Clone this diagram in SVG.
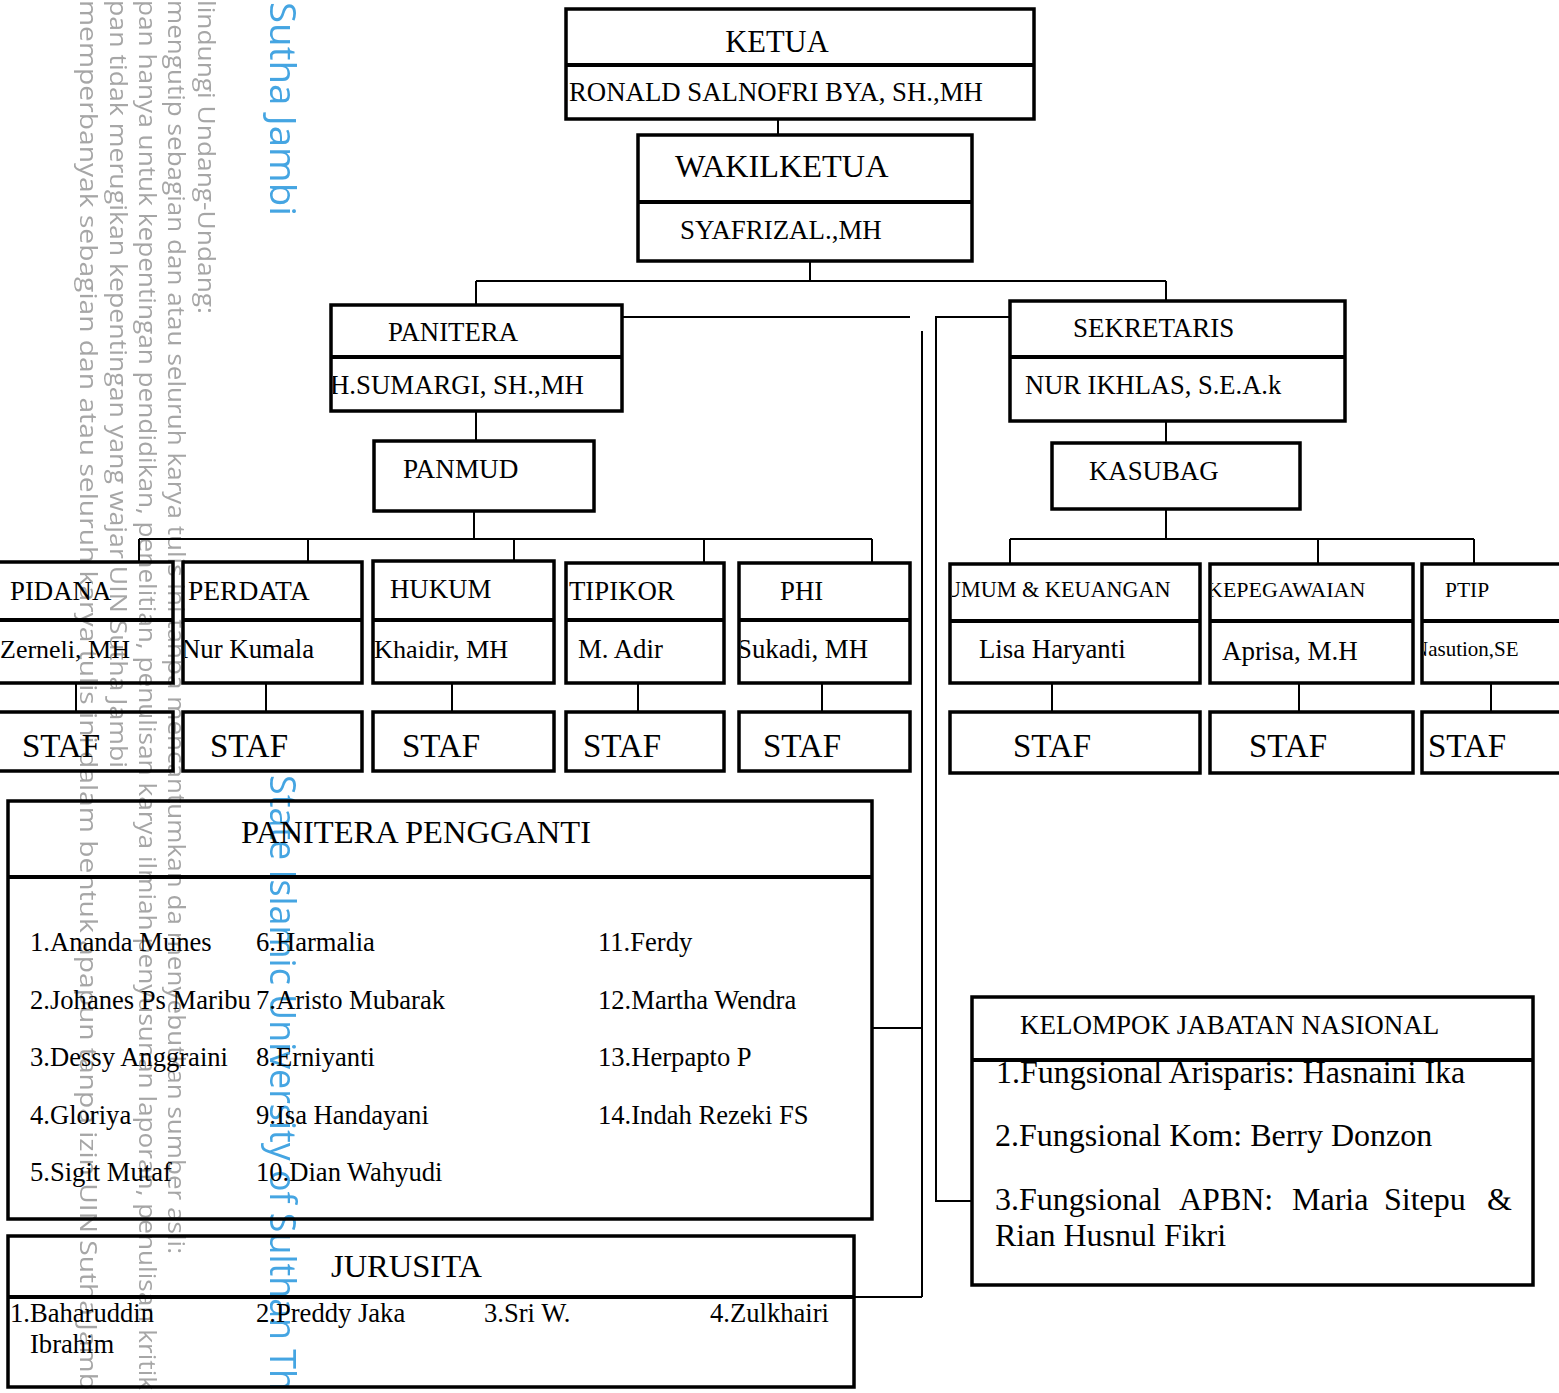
<svg xmlns="http://www.w3.org/2000/svg" width="1559" height="1393" viewBox="0 0 1559 1393">
<style>
.box{fill:none;stroke:#000;stroke-width:3.5}
.dv{stroke:#000;stroke-width:4}
.cn{fill:none;stroke:#000;stroke-width:2}
.t{font-family:"Liberation Serif","Times New Roman",serif;fill:#000}
.h26{font-size:26.8px}
.h31{font-size:32.5px}
.stf{font-size:33px}
.sm{font-size:22px}
.nm{font-size:26.6px}
.wm{font-family:"Open Sans","Noto Sans","DejaVu Sans",sans-serif;font-size:23px;fill:#a6a6a6}
.wb{font-family:"Open Sans","Noto Sans","DejaVu Sans",sans-serif;font-size:36px;fill:#45a5e2}
</style>
<defs>
<clipPath id="cPan"><rect x="333" y="359" width="287" height="50"/></clipPath>
<clipPath id="cPer"><rect x="185" y="621" width="175" height="60"/></clipPath>
<clipPath id="cPhi"><rect x="741" y="621" width="167" height="60"/></clipPath>
<clipPath id="cUmum"><rect x="952" y="566" width="246" height="53"/></clipPath>
<clipPath id="cKep"><rect x="1212" y="566" width="199" height="53"/></clipPath>
<clipPath id="cPtip"><rect x="1424" y="623" width="135" height="58"/></clipPath>
</defs>
<rect x="0" y="0" width="1559" height="1393" fill="#fff"/>

<g id="connectors" class="cn">
<path d="M778,119V135"/>
<path d="M810,261V281M476,281H1166M476,281V305M1166,281V301"/>
<path d="M476,411V441"/>
<path d="M474,511V539M139,539H872M139,539V562M308,539V562M514,539V562M704,539V562M872,539V562"/>
<path d="M76,683V712M266,683V712M452,683V712M638,683V712M822,683V712"/>
<path d="M1166,421V443"/>
<path d="M1166,509V539M1010,539H1474M1010,539V564M1318,539V564M1474,539V564"/>
<path d="M1052,683V712M1299,683V712M1491,683V712"/>
<path d="M622,317H910"/>
<path d="M922,331V1297M872,1028H922M854,1297H922"/>
<path d="M1010,317H936V1201H972"/>
</g>

<g id="ketua">
<rect class="box" x="566" y="9" width="468" height="110"/>
<line class="dv" x1="566" y1="65" x2="1034" y2="65"/>
<text class="t" x="777" y="52" font-size="30.5" text-anchor="middle">KETUA</text>
<text class="t" x="569" y="101" font-size="26.8">RONALD SALNOFRI BYA, SH.,MH</text>
</g>

<g id="wakilketua">
<rect class="box" x="638" y="135" width="334" height="126"/>
<line class="dv" x1="638" y1="202" x2="972" y2="202"/>
<text class="t" x="675" y="177" font-size="32.3">WAKILKETUA</text>
<text class="t" x="680" y="239" font-size="26.9">SYAFRIZAL.,MH</text>
</g>

<g id="panitera">
<rect class="box" x="331" y="305" width="291" height="106"/>
<line class="dv" x1="331" y1="357" x2="622" y2="357"/>
<text class="t h26" x="388" y="341">PANITERA</text>
<text class="t h26" x="330" y="394" clip-path="url(#cPan)">H.SUMARGI, SH.,MH</text>
</g>

<g id="panmud">
<rect class="box" x="374" y="441" width="220" height="70"/>
<text class="t" x="403" y="478" font-size="27.2">PANMUD</text>
</g>

<g id="pidana">
<path class="box" d="M0,562H173V683H0"/>
<line class="dv" x1="0" y1="620" x2="173" y2="620"/>
<text class="t h26" x="10" y="600">PIDANA</text>
<text class="t" x="0" y="658" font-size="26">Zerneli, MH</text>
</g>
<g id="perdata">
<rect class="box" x="183" y="562" width="179" height="121"/>
<line class="dv" x1="183" y1="620" x2="362" y2="620"/>
<text class="t" x="188" y="600" font-size="27.5">PERDATA</text>
<text class="t h26" x="181" y="658" clip-path="url(#cPer)">Nur Kumala</text>
</g>
<g id="hukum">
<rect class="box" x="373" y="561" width="181" height="122"/>
<line class="dv" x1="373" y1="620" x2="554" y2="620"/>
<text class="t h26" x="390" y="598">HUKUM</text>
<text class="t" x="374" y="658" font-size="26.2">Khaidir, MH</text>
</g>
<g id="tipikor">
<rect class="box" x="566" y="563" width="158" height="120"/>
<line class="dv" x1="566" y1="620" x2="724" y2="620"/>
<text class="t h26" x="569" y="600">TIPIKOR</text>
<text class="t h26" x="578" y="658">M. Adir</text>
</g>
<g id="phi">
<rect class="box" x="739" y="563" width="171" height="120"/>
<line class="dv" x1="739" y1="620" x2="910" y2="620"/>
<text class="t h26" x="780" y="600">PHI</text>
<text class="t h26" x="737" y="658" clip-path="url(#cPhi)">Sukadi, MH</text>
</g>

<g id="staf-pidana">
<path class="box" d="M0,712H173V771H0"/>
<text class="t stf" x="22" y="757">STAF</text>
</g>
<g id="staf-perdata">
<rect class="box" x="183" y="712" width="179" height="59"/>
<text class="t stf" x="210" y="757">STAF</text>
</g>
<g id="staf-hukum">
<rect class="box" x="373" y="712" width="181" height="59"/>
<text class="t stf" x="402" y="757">STAF</text>
</g>
<g id="staf-tipikor">
<rect class="box" x="566" y="712" width="158" height="59"/>
<text class="t stf" x="583" y="757">STAF</text>
</g>
<g id="staf-phi">
<rect class="box" x="739" y="712" width="171" height="59"/>
<text class="t stf" x="763" y="757">STAF</text>
</g>

<g id="sekretaris">
<rect class="box" x="1010" y="301" width="335" height="120"/>
<line class="dv" x1="1010" y1="357" x2="1345" y2="357"/>
<text class="t" x="1073" y="337" font-size="27">SEKRETARIS</text>
<text class="t" x="1025" y="394" font-size="26.5">NUR IKHLAS, S.E.A.k</text>
</g>
<g id="kasubag">
<rect class="box" x="1052" y="443" width="248" height="66"/>
<text class="t h26" x="1089" y="480">KASUBAG</text>
</g>

<g id="umum">
<rect class="box" x="950" y="564" width="250" height="119"/>
<line class="dv" x1="950" y1="621" x2="1200" y2="621"/>
<text class="t" x="945" y="597" font-size="22.2" clip-path="url(#cUmum)">UMUM &amp; KEUANGAN</text>
<text class="t h26" x="979" y="658">Lisa Haryanti</text>
</g>
<g id="kepegawaian">
<rect class="box" x="1210" y="564" width="203" height="119"/>
<line class="dv" x1="1210" y1="621" x2="1413" y2="621"/>
<text class="t sm" x="1207" y="597" clip-path="url(#cKep)">KEPEGAWAIAN</text>
<text class="t" x="1222" y="660" font-size="27">Aprisa, M.H</text>
</g>
<g id="ptip">
<path class="box" d="M1559,564H1422V683H1559"/>
<line class="dv" x1="1422" y1="621" x2="1559" y2="621"/>
<text class="t" x="1445" y="597" font-size="21.5">PTIP</text>
<text class="t" x="1413" y="656" font-size="21" clip-path="url(#cPtip)">Nasution,SE</text>
</g>

<g id="staf-umum">
<rect class="box" x="950" y="712" width="250" height="61"/>
<text class="t stf" x="1013" y="757">STAF</text>
</g>
<g id="staf-kepegawaian">
<rect class="box" x="1210" y="712" width="203" height="61"/>
<text class="t stf" x="1249" y="757">STAF</text>
</g>
<g id="staf-ptip">
<path class="box" d="M1559,712H1422V773H1559"/>
<text class="t stf" x="1428" y="757">STAF</text>
</g>

<g id="panitera-pengganti">
<rect class="box" x="8" y="801" width="864" height="418"/>
<line class="dv" x1="8" y1="877" x2="872" y2="877"/>
<text class="t h31" x="241" y="843">PANITERA PENGGANTI</text>
<g class="t nm">
<text x="30" y="951">1.Ananda Munes</text>
<text x="30" y="1009">2.Johanes Ps Maribu</text>
<text x="30" y="1066">3.Dessy Anggraini</text>
<text x="30" y="1124">4.Gloriya</text>
<text x="30" y="1181">5.Sigit Mutaf</text>
<text x="256" y="951">6.Harmalia</text>
<text x="256" y="1009">7.Aristo Mubarak</text>
<text x="256" y="1066">8.Erniyanti</text>
<text x="256" y="1124">9.Isa Handayani</text>
<text x="256" y="1181">10.Dian Wahyudi</text>
<text x="598" y="951">11.Ferdy</text>
<text x="598" y="1009">12.Martha Wendra</text>
<text x="598" y="1066">13.Herpapto P</text>
<text x="598" y="1124">14.Indah Rezeki FS</text>
</g>
</g>

<g id="jurusita">
<rect class="box" x="8" y="1236" width="846" height="151"/>
<line class="dv" x1="8" y1="1297" x2="854" y2="1297"/>
<text class="t h31" x="331" y="1277">JURUSITA</text>
<g class="t nm">
<text x="10" y="1322">1.Baharuddin</text>
<text x="30" y="1353">Ibrahim</text>
<text x="256" y="1322">2.Preddy Jaka</text>
<text x="484" y="1322">3.Sri W.</text>
<text x="710" y="1322">4.Zulkhairi</text>
</g>
</g>

<g id="kelompok-jabatan">
<rect class="box" x="972" y="997" width="561" height="288"/>
<line class="dv" x1="972" y1="1060" x2="1533" y2="1060"/>
<text class="t" x="1020" y="1034" font-size="27">KELOMPOK JABATAN NASIONAL</text>
<g class="t" font-size="32">
<text x="996" y="1083">1.Fungsional Arisparis: Hasnaini Ika</text>
<text x="995" y="1146">2.Fungsional Kom: Berry Donzon</text>
<text y="1210"><tspan x="995">3.Fungsional</tspan><tspan x="1179">APBN:</tspan><tspan x="1292">Maria</tspan><tspan x="1384">Sitepu</tspan><tspan x="1487">&amp;</tspan></text>
<text x="995" y="1246">Rian Husnul Fikri</text>
</g>
</g>

<g id="watermark" style="mix-blend-mode:multiply">
<text class="wb" transform="translate(270,0) rotate(90)" x="2" y="0" textLength="214" lengthAdjust="spacingAndGlyphs">Sutha Jambi</text>
<text class="wb" transform="translate(270,0) rotate(90)" x="775" y="0" textLength="616" lengthAdjust="spacingAndGlyphs">State Islamic University of Sulthan Th</text>
<text class="wm" transform="translate(198,0) rotate(90)" x="0" y="0" textLength="314" lengthAdjust="spacingAndGlyphs">lindungi Undang-Undang:</text>
<text class="wm" transform="translate(168,0) rotate(90)" x="0" y="0" textLength="1254" lengthAdjust="spacingAndGlyphs">mengutip sebagian dan atau seluruh karya tulis ini tanpa mencantumkan da menyebutkan sumber asli:</text>
<text class="wm" transform="translate(139,0) rotate(90)" x="0" y="0" textLength="1390" lengthAdjust="spacingAndGlyphs">pan hanya untuk kepentingan pendidikan, penelitian, penulisan karya ilmiah penyusunan laporan, penulisan kritik</text>
<text class="wm" transform="translate(110,0) rotate(90)" x="0" y="0" textLength="768" lengthAdjust="spacingAndGlyphs">pan tidak merugikan kepentingan yang wajar UIN Sutha Jambi</text>
<text class="wm" transform="translate(80,0) rotate(90)" x="0" y="0" textLength="1390" lengthAdjust="spacingAndGlyphs">memperbanyak sebagian dan atau seluruh karya tulis ini dalam bentuk apapun tanpa izin UIN Sutha Jamb</text>
</g>
</svg>
